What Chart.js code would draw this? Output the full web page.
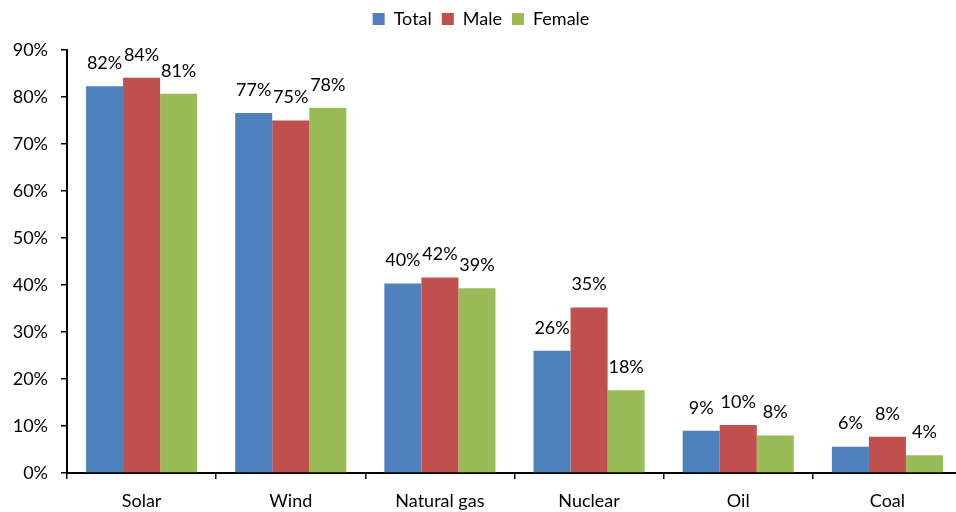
<!DOCTYPE html>
<html>
<head>
<meta charset="utf-8">
<script src="https://cdn.jsdelivr.net/npm/chart.js@4.4.1/dist/chart.umd.min.js"></script>
<style>
  html, body { margin: 0; padding: 0; background: #fff; overflow: hidden; width: 956px; height: 512px; }
  #wrap { width: 982px; height: 512px; }
</style>
</head>
<body>
<div id="wrap"><canvas id="c" width="982" height="512"></canvas></div>
<script>
const categories = ["Solar", "Wind", "Natural gas", "Nuclear", "Oil", "Coal"];
const totalValues  = [82.3, 76.6, 40.3, 26.0, 9.0, 5.6];
const maleValues   = [84.1, 75.0, 41.6, 35.2, 10.2, 7.7];
const femaleValues = [80.7, 77.7, 39.3, 17.6, 8.0, 3.8];
const yTicks = [0, 10, 20, 30, 40, 50, 60, 70, 80, 90];

const FONT = "Lato, 'Open Sans', sans-serif";
const FS = 18;

const dataLabels = {
  id: 'dataLabels',
  afterDatasetsDraw(chart) {
    const ctx = chart.ctx;
    ctx.save();
    ctx.font = FS + "px " + FONT;
    ctx.fillStyle = "#000";
    ctx.textAlign = "center";
    ctx.textBaseline = "middle";
    chart.data.datasets.forEach((ds, i) => {
      const meta = chart.getDatasetMeta(i);
      meta.data.forEach((bar, j) => {
        ctx.fillText(Math.round(ds.data[j]) + "%", bar.x, bar.y - 23);
      });
    });
    ctx.restore();
  }
};

const legendHeight = {
  id: 'legendHeight',
  beforeInit(chart) {
    const orig = chart.legend.fit;
    chart.legend.fit = function () {
      orig.bind(chart.legend)();
      this.height = 50;
    };
  }
};

new Chart(document.getElementById('c'), {
  type: 'bar',
  data: {
    labels: categories,
    datasets: [
      { label: 'Total', data: totalValues, backgroundColor: '#4F81BD' },
      { label: 'Male', data: maleValues, backgroundColor: '#C0504D' },
      { label: 'Female', data: femaleValues, backgroundColor: '#9BBB59' }
    ]
  },
  options: {
    responsive: false,
    animation: false,
    layout: { padding: { left: 0, right: 20, top: 0, bottom: 0 } },
    datasets: { bar: { categoryPercentage: 0.745, barPercentage: 1.0 } },
    plugins: {
      tooltip: { enabled: false },
      legend: {
        position: 'top',
        labels: {
          boxWidth: 12, boxHeight: 12, padding: 10,
          color: '#000',
          font: { family: FONT, size: FS }
        }
      }
    },
    scales: {
      x: {
        grid: { offset: true, drawOnChartArea: false, drawTicks: true, tickLength: 6, color: '#000', lineWidth: 1.5 },
        border: { color: '#000', width: 2 },
        ticks: { color: '#000', font: { family: FONT, size: FS }, padding: 11, maxRotation: 0 },
        afterFit(scale) { scale.height = 39; }
      },
      y: {
        min: 0, max: 90,
        afterBuildTicks(scale) { scale.ticks = yTicks.map(v => ({ value: v })); },
        grid: { drawOnChartArea: false, drawTicks: true, tickLength: 6, color: '#000', lineWidth: 1.5 },
        border: { color: '#000', width: 2 },
        ticks: { color: '#000', font: { family: FONT, size: FS }, padding: 13, callback: v => v + '%' },
        afterFit(scale) { scale.width = 67; }
      }
    }
  },
  plugins: [dataLabels, legendHeight]
});
</script>
</body>
</html>
